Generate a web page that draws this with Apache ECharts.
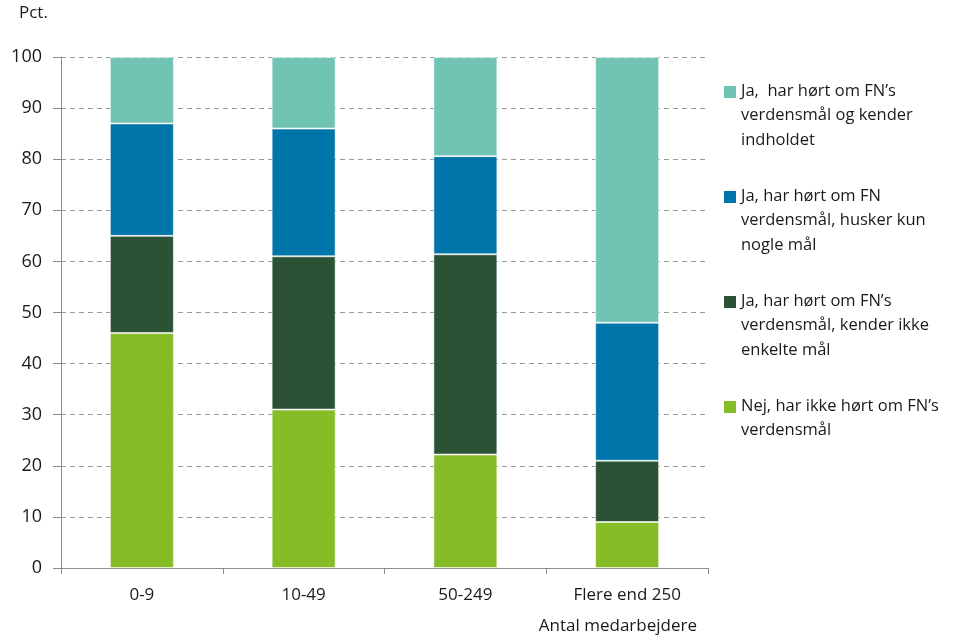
<!DOCTYPE html>
<html>
<head>
<meta charset="utf-8">
<script src="https://cdn.jsdelivr.net/npm/echarts@6/dist/echarts.min.js"></script>
<style>
  html, body { margin: 0; padding: 0; background: #fff; }
  #chart { width: 962px; height: 637px; }
</style>
</head>
<body>
<div id="chart"></div>
<script>
// Company size groups (number of employees)
const categories = ['0-9', '10-49', '50-249', 'Flere end 250'];

// Shares in percent, stacked from the bottom up
const nejValues = [46, 31, 22.2, 9];
const kenderIkkeValues = [19, 30, 39.2, 12];
const huskerKunValues = [22, 25, 19.2, 27];
const kenderIndholdValues = [13, 14, 19.4, 52];

const seriesNames = [
  'Nej, har ikke hørt om FN’s verdensmål',
  'Ja, har hørt om FN’s verdensmål, kender ikke enkelte mål',
  'Ja, har hørt om FN verdensmål, husker kun nogle mål',
  'Ja,  har hørt om FN’s verdensmål og kender indholdet'
];
// Wrapped legend text, same order as seriesNames
const legendLines = [
  ['Nej, har ikke hørt om FN’s', 'verdensmål'],
  ['Ja, har hørt om FN’s', 'verdensmål, kender ikke', 'enkelte mål'],
  ['Ja, har hørt om FN', 'verdensmål, husker kun', 'nogle mål'],
  ['Ja,  har hørt om FN’s', 'verdensmål og kender', 'indholdet']
];
const seriesColors = ['#86bc25', '#2b5234', '#0075a9', '#71c3b4'];
const yAxisTitle = 'Pct.';
const xAxisTitle = 'Antal medarbejdere';

const FONT = '"Open Sans", "Noto Sans", sans-serif';
const TEXT = '#1a1a1a';
const AXIS = '#8c8c8c';

const valueSets = [nejValues, kenderIkkeValues, huskerKunValues, kenderIndholdValues];

const series = seriesNames.map((name, i) => ({
  name,
  type: 'bar',
  stack: 'total',
  barWidth: 64,
  data: valueSets[i],
  itemStyle: { color: seriesColors[i], borderColor: 'rgba(255,255,255,0.55)', borderWidth: 1 },
  emphasis: { disabled: true }
}));

// Legend drawn top-down: last series first
const graphics = [];
const legendX = 724, firstLineY = 91, itemStep = 105, lineH = 24.5;
for (let k = 0; k < seriesNames.length; k++) {
  const i = seriesNames.length - 1 - k;
  const cy = firstLineY + k * itemStep;
  graphics.push({
    type: 'rect', left: legendX, top: cy - 5,
    shape: { width: 12, height: 12 },
    style: { fill: seriesColors[i] }
  });
  graphics.push({
    type: 'text', left: legendX + 17, top: cy - lineH / 2,
    style: {
      text: legendLines[i].join('\n'),
      font: '16.5px ' + FONT, fill: TEXT, lineHeight: lineH
    }
  });
}
graphics.push({
  type: 'text', left: 19, top: 5,
  style: { text: yAxisTitle, font: '17px ' + FONT, fill: TEXT }
});
graphics.push({
  type: 'text', right: 265, top: 618,
  style: { text: xAxisTitle, font: '17px ' + FONT, fill: TEXT }
});

const chart = echarts.init(document.getElementById('chart'), null, { renderer: 'canvas' });
chart.setOption({
  animation: false,
  grid: { left: 61, right: 254, top: 57, bottom: 69, containLabel: false },
  xAxis: {
    type: 'category',
    data: categories,
    axisLine: { lineStyle: { color: AXIS, width: 1 } },
    axisTick: { show: true, length: 6, lineStyle: { color: AXIS } },
    axisLabel: { color: TEXT, fontSize: 17, fontFamily: FONT, margin: 19 }
  },
  yAxis: {
    type: 'value',
    min: 0, max: 100, interval: 10,
    axisLine: { show: true, lineStyle: { color: AXIS, width: 1 } },
    axisTick: { show: true, length: 8, lineStyle: { color: AXIS } },
    axisLabel: { color: TEXT, fontSize: 18, fontFamily: FONT, margin: 19 },
    splitLine: { show: true, lineStyle: { color: '#999', type: [5, 4], width: 1 } }
  },
  series,
  graphic: graphics
});
</script>
</body>
</html>
